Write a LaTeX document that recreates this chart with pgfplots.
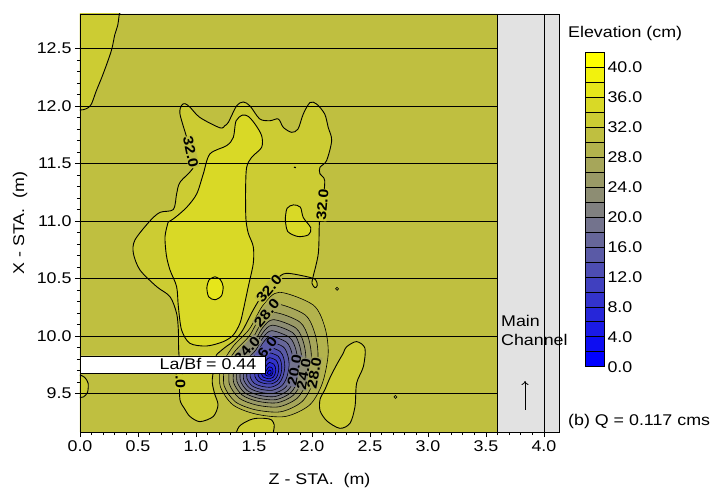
\documentclass[border=0pt]{standalone}
\usepackage{fontspec}
\setmainfont{Liberation Sans}[FakeStretch=1.15]
\usepackage{pgfplots}
\pgfplotsset{compat=1.18}
\usetikzlibrary{arrows.meta}

% elevation bands, 2 cm each: c0 = 0-2 ... c20 = 40-42
\definecolor{c0}{RGB}{0,0,255}
\definecolor{c1}{RGB}{13,13,242}
\definecolor{c2}{RGB}{26,26,230}
\definecolor{c3}{RGB}{38,38,217}
\definecolor{c4}{RGB}{51,51,204}
\definecolor{c5}{RGB}{64,64,191}
\definecolor{c6}{RGB}{77,77,179}
\definecolor{c7}{RGB}{90,90,166}
\definecolor{c8}{RGB}{102,102,153}
\definecolor{c9}{RGB}{115,115,141}
\definecolor{c10}{RGB}{128,128,128}
\definecolor{c11}{RGB}{141,141,115}
\definecolor{c12}{RGB}{153,153,102}
\definecolor{c13}{RGB}{166,166,90}
\definecolor{c14}{RGB}{179,179,77}
\definecolor{c15}{RGB}{191,191,64}
\definecolor{c16}{RGB}{204,204,51}
\definecolor{c17}{RGB}{217,217,38}
\definecolor{c18}{RGB}{230,230,26}
\definecolor{c19}{RGB}{242,242,13}
\definecolor{c20}{RGB}{255,255,0}
\definecolor{chan}{RGB}{226,226,226}

\newcommand\lab{\fontsize{15.5bp}{18bp}\selectfont}
\newcommand\clab{\fontsize{14bp}{16bp}\selectfont\bfseries}

\begin{document}
\begin{tikzpicture}
\begin{axis}[
    scale only axis, width=479bp, height=418bp,
    xmin=0, xmax=4.13, ymin=9.165, ymax=12.8,
    xtick={0,0.5,1,1.5,2,2.5,3,3.5,4},
    ytick={9.5,10,10.5,11,11.5,12,12.5},
    minor x tick num=4, minor y tick num=4,
    tick align=outside, tick pos=left,
    major tick length=5bp, minor tick length=3bp,
    every tick/.append style={black, line width=0.6bp},
    axis on top,
    axis line style={line width=0.8bp},
    tick label style={font=\lab},
    label style={font=\lab},
    /pgf/number format/assume math mode=true,
    /pgf/number format/fixed,
    /pgf/number format/fixed zerofill,
    /pgf/number format/precision=1,
    xlabel={Z - STA.\ \ (m)},
    ylabel={X - STA.\ \ (m)},
    xlabel style={at={(axis description cs:0.5,-0.115)}, anchor=center},
    ylabel style={at={(axis description cs:-0.125,0.5)}, anchor=center},
    contour/.style={draw=black, line width=0.9bp, smooth},
    ring/.style={draw=black, line width=0.6bp, smooth},
]
% background band 30-32 and main channel strip
\addplot[fill=c15, draw=none] coordinates {(0,9.165) (3.6,9.165) (3.6,12.8) (0,12.8) (0,9.165)};
\addplot[fill=chan, draw=black, line width=0.8bp] coordinates {(3.6,9.165) (4.13,9.165) (4.13,12.8) (3.6,12.8) (3.6,9.165)};
\addplot[black, line width=0.8bp] coordinates {(4.0,9.165) (4.0,12.8)};

% 32-34 regions
\addplot[fill=c16, contour] coordinates {
 (0.856,9.80) (0.85,9.90) (0.848,10.052) (0.833,10.197) (0.776,10.342) (0.661,10.429)
 (0.517,10.574) (0.46,10.72) (0.474,10.835) (0.603,11.0) (0.69,11.075) (0.805,11.10)
 (0.833,11.235) (0.862,11.336) (0.977,11.467) (0.955,11.60) (0.92,11.727) (0.862,11.93)
 (0.875,12.005) (0.905,12.02) (0.948,11.99) (1.034,11.90) (1.207,11.81) (1.25,11.83)
 (1.279,11.858) (1.35,12.0) (1.408,12.035) (1.466,12.0) (1.55,11.887) (1.638,11.872)
 (1.71,11.887) (1.753,11.814) (1.825,11.771) (1.88,11.8) (1.925,11.93) (1.983,12.03)
 (2.04,12.017) (2.11,11.93) (2.14,11.814) (2.17,11.7) (2.126,11.525) (2.069,11.467)
 (2.069,11.41) (2.11,11.35) (2.09,11.14) (2.065,11.0) (2.055,10.72) (2.01,10.516)
 (2.0,10.458) (2.026,10.42) (2.046,10.44) (2.03,10.49) (1.954,10.516) (1.78,10.545)
 (1.70,10.50) (1.63,10.41) (1.55,10.32) (1.49,10.22) (1.44,10.12) (1.39,10.03)
 (1.33,9.96) (1.25,9.90) (1.18,9.84) (1.16,9.80) (1.15,9.70) (1.14,9.60) (1.16,9.50)
 (1.19,9.40) (1.149,9.30) (1.034,9.255) (0.948,9.30) (0.90,9.37) (0.862,9.444)
 (0.858,9.60) (0.856,9.70) (0.856,9.80)};
\addplot[fill=c16, contour] coordinates {
 (-0.05,12.85) (0.35,12.85) (0.339,12.8) (0.325,12.7) (0.30,12.62) (0.27,12.48) (0.2,12.28)
 (0.14,12.13) (0.1,12.02) (0.07,11.985) (0.03,11.968) (0,11.965) (-0.05,11.96) (-0.05,12.85)};
\addplot[fill=c16, contour] coordinates {
 (-0.05,9.66) (0,9.66) (0.04,9.64) (0.07,9.59) (0.065,9.51) (0.03,9.47) (0,9.465) (-0.05,9.465) (-0.05,9.66)};
\addplot[fill=c16, contour] coordinates {
 (2.27,9.85) (2.30,9.907) (2.385,9.951) (2.457,9.893) (2.443,9.733) (2.385,9.589)
 (2.371,9.386) (2.328,9.241) (2.241,9.197) (2.13,9.26) (2.07,9.35) (2.07,9.45)
 (2.11,9.53) (2.16,9.647) (2.22,9.763) (2.27,9.85)};
\addplot[fill=c16, contour] coordinates {
 (1.34,9.12) (1.35,9.165) (1.37,9.21) (1.408,9.241) (1.47,9.272) (1.523,9.284) (1.60,9.283)
 (1.652,9.27) (1.675,9.225) (1.668,9.17) (1.66,9.12) (1.34,9.12)};

% 34-36 regions
\addplot[fill=c17, contour] coordinates {
 (0.76,10.99) (0.733,10.864) (0.745,10.70) (0.776,10.574) (0.833,10.429) (0.848,10.255)
 (0.876,10.052) (0.948,9.936) (1.092,9.913) (1.236,9.951) (1.322,10.009) (1.379,10.11)
 (1.408,10.226) (1.451,10.429) (1.494,10.632) (1.494,10.777) (1.451,10.893) (1.432,11.0)
 (1.428,11.119) (1.428,11.293) (1.437,11.467) (1.48,11.554) (1.566,11.64) (1.566,11.742)
 (1.509,11.843) (1.45,11.91) (1.40,11.92) (1.345,11.87) (1.322,11.727) (1.264,11.655)
 (1.12,11.583) (1.063,11.409) (1.006,11.235) (0.92,11.119) (0.82,11.03) (0.76,10.99)};
\addplot[fill=c17, contour] coordinates {
 (1.77,11.02) (1.785,11.11) (1.84,11.14) (1.90,11.12) (1.925,11.03) (1.99,10.94)
 (1.97,10.88) (1.88,10.865) (1.79,10.91) (1.77,11.02)};
% 36-38 spot
\addplot[fill=c18, contour] coordinates {
 (1.164,10.515) (1.21,10.49) (1.234,10.43) (1.22,10.35) (1.164,10.315) (1.11,10.34)
 (1.094,10.42) (1.115,10.49) (1.164,10.515)};

% scour hole: contours 30 down to 4
\addplot[fill=c14, ring] coordinates {(1.210,9.740) (1.320,9.910) (1.460,10.060) (1.580,10.270) (1.720,10.380) (2.010,10.270) (2.110,10.080) (2.140,9.850) (2.090,9.590) (1.980,9.400) (1.770,9.300) (1.520,9.320) (1.320,9.400) (1.210,9.560) (1.210,9.740)};
\addplot[fill=c13, ring] coordinates {(1.243,9.724) (1.339,9.871) (1.461,10.002) (1.565,10.185) (1.687,10.280) (1.939,10.185) (2.026,10.019) (2.052,9.819) (2.009,9.593) (1.913,9.428) (1.731,9.341) (1.513,9.358) (1.339,9.428) (1.243,9.567) (1.243,9.724)};
\addplot[fill=c12, ring] coordinates {(1.288,9.718) (1.372,9.847) (1.478,9.961) (1.570,10.121) (1.676,10.204) (1.896,10.121) (1.972,9.976) (1.995,9.802) (1.957,9.604) (1.874,9.460) (1.714,9.384) (1.524,9.399) (1.372,9.460) (1.288,9.581) (1.288,9.718)};
\addplot[fill=c11, ring] coordinates {(1.325,9.714) (1.399,9.827) (1.493,9.928) (1.573,10.069) (1.667,10.142) (1.861,10.069) (1.928,9.941) (1.948,9.787) (1.915,9.613) (1.841,9.486) (1.701,9.419) (1.533,9.432) (1.399,9.486) (1.325,9.593) (1.325,9.714)};
\addplot[fill=c10, ring] coordinates {(1.354,9.710) (1.420,9.812) (1.504,9.902) (1.576,10.028) (1.660,10.094) (1.834,10.028) (1.894,9.914) (1.912,9.776) (1.882,9.620) (1.816,9.506) (1.690,9.446) (1.540,9.458) (1.420,9.506) (1.354,9.602) (1.354,9.710)};
\addplot[fill=c9, ring] coordinates {(1.383,9.707) (1.441,9.797) (1.515,9.876) (1.579,9.987) (1.653,10.046) (1.807,9.987) (1.860,9.887) (1.876,9.765) (1.849,9.627) (1.791,9.526) (1.680,9.473) (1.547,9.484) (1.441,9.526) (1.383,9.611) (1.383,9.707)};
\addplot[fill=c8, ring] coordinates {(1.411,9.703) (1.462,9.781) (1.526,9.850) (1.582,9.947) (1.646,9.997) (1.779,9.947) (1.825,9.859) (1.839,9.754) (1.816,9.634) (1.766,9.547) (1.669,9.501) (1.554,9.510) (1.462,9.547) (1.411,9.620) (1.411,9.703)};
\addplot[fill=c7, ring] coordinates {(1.440,9.700) (1.483,9.766) (1.538,9.824) (1.584,9.906) (1.639,9.949) (1.752,9.906) (1.791,9.832) (1.803,9.742) (1.783,9.641) (1.740,9.567) (1.659,9.528) (1.561,9.536) (1.483,9.567) (1.440,9.629) (1.440,9.700)};
\addplot[fill=c6, ring] coordinates {(1.469,9.696) (1.504,9.750) (1.549,9.798) (1.587,9.866) (1.632,9.901) (1.725,9.866) (1.757,9.805) (1.766,9.731) (1.750,9.648) (1.715,9.587) (1.648,9.555) (1.568,9.562) (1.504,9.587) (1.469,9.638) (1.469,9.696)};
\addplot[fill=c5, ring] coordinates {(1.508,9.693) (1.535,9.735) (1.570,9.773) (1.600,9.825) (1.635,9.853) (1.708,9.825) (1.733,9.778) (1.740,9.720) (1.728,9.655) (1.700,9.608) (1.648,9.583) (1.585,9.588) (1.535,9.608) (1.508,9.648) (1.508,9.693)};
\addplot[fill=c4, ring] coordinates {(1.537,9.690) (1.558,9.722) (1.585,9.750) (1.607,9.790) (1.634,9.811) (1.689,9.790) (1.708,9.754) (1.714,9.710) (1.704,9.661) (1.683,9.625) (1.644,9.606) (1.596,9.610) (1.558,9.625) (1.537,9.655) (1.537,9.690)};
\addplot[fill=c3, ring] coordinates {(1.567,9.687) (1.581,9.709) (1.599,9.728) (1.615,9.755) (1.633,9.770) (1.671,9.755) (1.684,9.731) (1.688,9.701) (1.681,9.667) (1.667,9.642) (1.640,9.629) (1.607,9.632) (1.581,9.642) (1.567,9.663) (1.567,9.687)};
\addplot[fill=c2, ring] coordinates {(1.594,9.684) (1.603,9.697) (1.613,9.708) (1.622,9.724) (1.633,9.732) (1.654,9.724) (1.662,9.709) (1.664,9.692) (1.660,9.673) (1.652,9.658) (1.636,9.651) (1.618,9.652) (1.603,9.658) (1.594,9.670) (1.594,9.684)};
\addplot[fill=c1, ring] coordinates {(1.616,9.682) (1.620,9.688) (1.624,9.693) (1.629,9.700) (1.634,9.704) (1.644,9.700) (1.647,9.694) (1.648,9.686) (1.647,9.677) (1.643,9.670) (1.635,9.666) (1.627,9.667) (1.620,9.670) (1.616,9.675) (1.616,9.682)};

% small closed contours
\addplot[only marks, mark=o, mark size=1.5bp, black, line width=0.6bp] coordinates {(2.216,10.41) (2.72,9.47)};
\addplot[black, line width=1.2bp] coordinates {(1.845,11.467) (1.862,11.465)};

% horizontal grid lines
\addplot[black, line width=0.9bp] coordinates {(0,9.5) (3.6,9.5)};
\addplot[black, line width=0.9bp] coordinates {(0,10) (3.6,10)};
\addplot[black, line width=0.9bp] coordinates {(0,10.5) (3.6,10.5)};
\addplot[black, line width=0.9bp] coordinates {(0,11) (3.6,11)};
\addplot[black, line width=0.9bp] coordinates {(0,11.5) (3.6,11.5)};
\addplot[black, line width=0.9bp] coordinates {(0,12) (3.6,12)};
\addplot[black, line width=0.9bp] coordinates {(0,12.5) (3.6,12.5)};

% contour labels
\node[font=\clab, rotate=-78, fill=c15, inner sep=0.5bp] at (0.955,11.60) {32.0};
\node[font=\clab, rotate=85, fill=c16, inner sep=0.5bp] at (2.09,11.14) {32.0};
\node[font=\clab, rotate=50, fill=c15, inner sep=0.5bp] at (1.63,10.41) {32.0};
\node[font=\clab, rotate=50, fill=c13, inner sep=0.5bp] at (1.61,10.20) {28.0};
\node[font=\clab, rotate=48, fill=c11, inner sep=0.5bp] at (1.44,9.88) {24.0};
\node[font=\clab, rotate=50, fill=c7, inner sep=0.5bp] at (1.59,9.87) {16.0};
\node[font=\clab, rotate=80, fill=c9, inner sep=0.5bp] at (1.85,9.70) {20.0};
\node[font=\clab, rotate=80, fill=c11, inner sep=0.5bp] at (1.93,9.67) {24.0};
\node[font=\clab, rotate=80, fill=c13, inner sep=0.5bp] at (2.02,9.68) {28.0};
\node[font=\clab, rotate=-90, fill=c16, inner sep=0.5bp] at (0.867,9.68) {32.0};

% lateral structure
\addplot[fill=white, draw=black, line width=0.9bp] coordinates {(0,9.678) (1.595,9.678) (1.595,9.826) (0,9.826) (0,9.678)};
\end{axis}

% colour scale
\begin{axis}[
    at={(505bp,65.3bp)}, anchor=south west,
    scale only axis, width=19bp, height=314bp,
    xmin=0, xmax=1, ymin=0, ymax=42,
    xtick=\empty, ytick={0,4,8,12,16,20,24,28,32,36,40},
    yticklabel pos=right, major tick length=0pt,
    axis on top, axis line style={line width=0.8bp},
    tick label style={font=\lab},
    /pgf/number format/assume math mode=true,
    /pgf/number format/fixed,
    /pgf/number format/fixed zerofill,
    /pgf/number format/precision=1,
    cell/.style={draw=black, line width=0.7bp},
]
\addplot[fill=c0, cell] coordinates {(0,0) (1,0) (1,2) (0,2) (0,0)};
\addplot[fill=c1, cell] coordinates {(0,2) (1,2) (1,4) (0,4) (0,2)};
\addplot[fill=c2, cell] coordinates {(0,4) (1,4) (1,6) (0,6) (0,4)};
\addplot[fill=c3, cell] coordinates {(0,6) (1,6) (1,8) (0,8) (0,6)};
\addplot[fill=c4, cell] coordinates {(0,8) (1,8) (1,10) (0,10) (0,8)};
\addplot[fill=c5, cell] coordinates {(0,10) (1,10) (1,12) (0,12) (0,10)};
\addplot[fill=c6, cell] coordinates {(0,12) (1,12) (1,14) (0,14) (0,12)};
\addplot[fill=c7, cell] coordinates {(0,14) (1,14) (1,16) (0,16) (0,14)};
\addplot[fill=c8, cell] coordinates {(0,16) (1,16) (1,18) (0,18) (0,16)};
\addplot[fill=c9, cell] coordinates {(0,18) (1,18) (1,20) (0,20) (0,18)};
\addplot[fill=c10, cell] coordinates {(0,20) (1,20) (1,22) (0,22) (0,20)};
\addplot[fill=c11, cell] coordinates {(0,22) (1,22) (1,24) (0,24) (0,22)};
\addplot[fill=c12, cell] coordinates {(0,24) (1,24) (1,26) (0,26) (0,24)};
\addplot[fill=c13, cell] coordinates {(0,26) (1,26) (1,28) (0,28) (0,26)};
\addplot[fill=c14, cell] coordinates {(0,28) (1,28) (1,30) (0,30) (0,28)};
\addplot[fill=c15, cell] coordinates {(0,30) (1,30) (1,32) (0,32) (0,30)};
\addplot[fill=c16, cell] coordinates {(0,32) (1,32) (1,34) (0,34) (0,32)};
\addplot[fill=c17, cell] coordinates {(0,34) (1,34) (1,36) (0,36) (0,34)};
\addplot[fill=c18, cell] coordinates {(0,36) (1,36) (1,38) (0,38) (0,36)};
\addplot[fill=c19, cell] coordinates {(0,38) (1,38) (1,40) (0,40) (0,38)};
\addplot[fill=c20, cell] coordinates {(0,40) (1,40) (1,42) (0,42) (0,40)};
\end{axis}

\node[anchor=west, inner sep=0pt, font=\lab] at (488bp,399bp) {Elevation (cm)};
\node[anchor=west, inner sep=0pt, font=\lab] at (488bp,11bp) {(b) Q = 0.117 cms};
\node[anchor=west, inner sep=0pt, font=\lab] at (421bp,111bp) {Main};
\node[anchor=west, inner sep=0pt, font=\lab] at (421bp,92bp) {Channel};
\draw[-{To[length=4bp,width=7bp]}, line width=0.8bp] (445bp,22bp) -- (445bp,51bp);
\node[font=\lab] at (128bp,68bp) {La/Bf = 0.44};

\pgfresetboundingbox
\path[use as bounding box] (-80bp,-62bp) rectangle (645bp,432bp);
\end{tikzpicture}
\end{document}
